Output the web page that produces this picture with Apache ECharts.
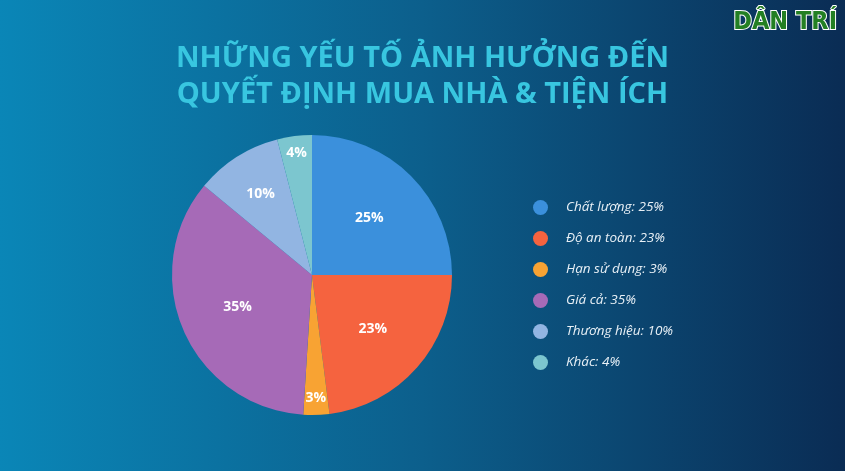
<!DOCTYPE html>
<html>
<head>
<meta charset="utf-8">
<script src="https://cdn.jsdelivr.net/npm/echarts@6/dist/echarts.min.js"></script>
<style>
html,body{margin:0;padding:0;}
#c{width:845px;height:471px;}
</style>
</head>
<body>
<div id="c"></div>
<script>
const titleLines = ['NHỮNG YẾU TỐ ẢNH HƯỞNG ĐẾN', 'QUYẾT ĐỊNH MUA NHÀ & TIỆN ÍCH'];
const categories = ['Chất lượng', 'Độ an toàn', 'Hạn sử dụng', 'Giá cả', 'Thương hiệu', 'Khác'];
const values = [25, 23, 3, 35, 10, 4];
const colors = ['#3b90dc', '#f5633f', '#f8a333', '#a66ab7', '#92b5e2', '#7cc6cf'];
const logoText = 'DÂN TRÍ';

const chart = echarts.init(document.getElementById('c'), null, {renderer: 'canvas'});
const data = categories.map((c, i) => ({name: c, value: values[i], itemStyle: {color: colors[i]}}));
const R = 140;
const center = [312, 275];

// label rings (ghost series) : which item indices use which label radius
const labelGroups = [
  {idx: [0, 1, 3], radius: [16, R]},
  {idx: [4], radius: [46, R]},
  {idx: [2, 5], radius: [100, R]}
];

const series = [{
  type: 'pie',
  center: center,
  radius: [0, R],
  startAngle: 90,
  clockwise: true,
  silent: true,
  label: {show: false},
  labelLine: {show: false},
  data: data
}];
labelGroups.forEach(g => {
  series.push({
    type: 'pie',
    center: center,
    radius: g.radius,
    startAngle: 90,
    clockwise: true,
    silent: true,
    legendHoverLink: false,
    itemStyle: {color: 'rgba(0,0,0,0)'},
    labelLine: {show: false},
    data: categories.map((c, i) => ({
      name: c + ' ',
      value: values[i],
      label: {
        show: g.idx.indexOf(i) >= 0,
        position: 'inside',
        formatter: values[i] + '%',
        color: '#ffffff',
        fontFamily: 'Open Sans',
        fontWeight: 'bold',
        fontSize: 14
      }
    }))
  });
});

chart.setOption({
  backgroundColor: {
    type: 'linear', x: 0, y: 0, x2: 1, y2: 0,
    colorStops: [
      {offset: 0, color: '#0a86b7'},
      {offset: 0.5, color: '#0c5f8c'},
      {offset: 1, color: '#0a2c54'}
    ]
  },
  animation: false,
  title: {
    text: titleLines.join('\n'),
    left: 'center',
    top: 36,
    textStyle: {
      color: '#38c6e0',
      fontFamily: 'Open Sans',
      fontWeight: 'bold',
      fontSize: 29,
      lineHeight: 36
    }
  },
  legend: {
    orient: 'vertical',
    left: 528,
    top: 195,
    icon: 'circle',
    itemWidth: 15,
    itemHeight: 15,
    itemGap: 16,
    data: categories,
    formatter: name => name + ': ' + values[categories.indexOf(name)] + '%',
    textStyle: {
      color: '#e8f0f6',
      fontFamily: 'Open Sans',
      fontStyle: 'italic',
      fontSize: 13.5,
      padding: [0, 0, 0, 13]
    }
  },
  graphic: [{
    type: 'text',
    right: 7,
    top: 9,
    style: {
      text: logoText,
      fill: '#237f23',
      stroke: '#ffffff',
      lineWidth: 2,
      font: '900 25px "DejaVu Sans Condensed"'
    }
  }],
  series: series
});
</script>
</body>
</html>
